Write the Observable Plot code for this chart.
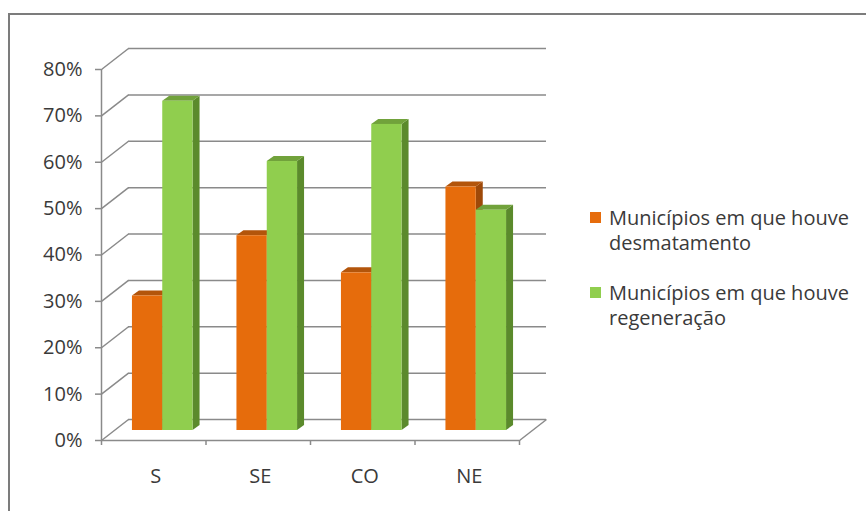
<!DOCTYPE html>
<html>
<head>
<meta charset="utf-8">
<script src="https://cdn.jsdelivr.net/npm/d3@7"></script>
<script src="https://cdn.jsdelivr.net/npm/@observablehq/plot@0.6"></script>
<style>
  html, body { margin: 0; padding: 0; background: #fff; }
  body { width: 866px; height: 511px; position: relative; overflow: hidden; font-family: "Open Sans", sans-serif; }
  #frame { position: absolute; left: 8px; top: 13px; right: -4px; bottom: -4px;
           border-left: 2px solid #7c7c7c; border-top: 2px solid #7c7c7c; }
  #chart { position: absolute; left: 0; top: 0; }
  #legend { position: absolute; left: 590px; top: 205px; color: #3a3a3a; font-size: 20px; line-height: 25px; }
  .item { position: relative; padding-left: 19px; margin-bottom: 25px; }
  .swatch { position: absolute; left: 0; top: 7px; width: 11px; height: 11px; }
</style>
</head>
<body>
<div id="frame"></div>
<div id="chart"></div>
<div id="legend"></div>
<script>
// Regions and share of municipalities per outcome
const categories = ["S", "SE", "CO", "NE"];
const desmatamento = [0.29, 0.42, 0.34, 0.525];
const regeneracao = [0.71, 0.58, 0.66, 0.475];
const seriesNames = ["Municípios em que houve desmatamento", "Municípios em que houve regeneração"];
const yTicks = [0, 0.1, 0.2, 0.3, 0.4, 0.5, 0.6, 0.7, 0.8];

// Face colours per series: front, top, side
const palette = [
  {front: "#E66C0C", top: "#B3550B", side: "#9E4909"},
  {front: "#90CE4E", top: "#71A23B", side: "#5B8A2C"}
];

// Layout
const W = 866, H = 511;
const mLeft = 101, mRight = 347, mTop = 69, mBottom = 71;
const kx = (W - mLeft - mRight) / categories.length; // px per category
const ky = (H - mTop - mBottom) / 0.8;                // px per unit of share

// Oblique depth of the box (px) and of each column (px)
const wallDX = 27, wallDY = 21;
const barDX = 7, barDY = 5;
const barOffX = 9, barOffY = -10;   // columns stand half-way into the floor
const barW = 0.29;                  // column width in category units

const DX = wallDX / kx, DY = wallDY / ky;
const bx = barDX / kx, by = barDY / ky;

const bars = categories.flatMap((c, i) => [desmatamento[i], regeneracao[i]].map((v, s) => {
  const x1 = i + 0.5 - barW + s * barW;
  return {id: `${c}-${s}`, s, v, x1, x2: x1 + barW};
}));
const tops = bars.flatMap(b => [
  {id: b.id, s: b.s, y: b.v, x1: b.x1, x2: b.x2},
  {id: b.id, s: b.s, y: b.v + by, x1: b.x1 + bx, x2: b.x2 + bx}
]);
const sides = bars.flatMap(b => [
  {id: b.id, s: b.s, x: b.x2, y1: 0, y2: b.v},
  {id: b.id, s: b.s, x: b.x2 + bx, y1: by, y2: b.v + by}
]);

const grid = "#8a8a8a";
const font = "Open Sans";
const textColor = "#3a3a3a";

const chart = Plot.plot({
  width: W, height: H,
  marginLeft: mLeft, marginRight: mRight, marginTop: mTop, marginBottom: mBottom,
  style: {background: "transparent", overflow: "visible"},
  x: {domain: [0, categories.length], axis: null},
  y: {domain: [0, 0.8], axis: null},
  marks: [
    // back wall gridlines
    Plot.ruleY(yTicks, {x1: 0, x2: categories.length, dx: wallDX, dy: -wallDY, stroke: grid, strokeWidth: 1.5}),
    // side wall gridlines
    Plot.link(yTicks, {x1: 0, y1: d => d, x2: DX, y2: d => d + DY, stroke: grid, strokeWidth: 1.5}),
    // floor: front edge, right edge
    Plot.ruleY([0], {x1: 0, x2: categories.length, stroke: grid, strokeWidth: 1.5}),
    Plot.link([categories.length], {x1: d => d, y1: 0, x2: d => d + DX, y2: DY, stroke: grid, strokeWidth: 1.5}),
    // vertical axis line and ticks
    Plot.ruleX([0], {y1: 0, y2: 0.8, stroke: grid, strokeWidth: 1.5}),
    Plot.ruleY(yTicks, {x1: -6 / kx, x2: 0, stroke: grid, strokeWidth: 1.5}),
    Plot.text(yTicks, {x: 0, y: d => d, text: d3.format(".0%"), textAnchor: "end", dx: -19,
                       fill: textColor, fontSize: 20, fontFamily: font}),
    // category ticks and labels
    Plot.ruleX(d3.range(categories.length + 1), {y1: 0, y2: -5 / ky, stroke: grid, strokeWidth: 1.5}),
    Plot.text(categories, {x: (d, i) => i + 0.5, y: 0, dy: 36, dx: 2, text: d => d,
                           fill: textColor, fontSize: 20, fontFamily: font}),
    // columns: side faces, top faces, front faces
    Plot.areaY(sides, {x: "x", y1: "y1", y2: "y2", z: "id", fill: d => palette[d.s].side, dx: barOffX, dy: barOffY}),
    Plot.areaX(tops, {y: "y", x1: "x1", x2: "x2", z: "id", fill: d => palette[d.s].top, dx: barOffX, dy: barOffY}),
    Plot.rect(bars, {x1: "x1", x2: "x2", y1: 0, y2: "v", fill: d => palette[d.s].front, dx: barOffX, dy: barOffY})
  ]
});
document.getElementById("chart").append(chart);

// Legend
const legend = document.getElementById("legend");
seriesNames.forEach((name, s) => {
  const item = document.createElement("div");
  item.className = "item";
  const sw = document.createElement("span");
  sw.className = "swatch";
  sw.style.background = palette[s].front;
  item.append(sw);
  const words = name.split(" ");
  const first = words.slice(0, 4).join(" ");
  const rest = words.slice(4).join(" ");
  item.append(first, document.createElement("br"), rest);
  legend.append(item);
});
</script>
</body>
</html>
